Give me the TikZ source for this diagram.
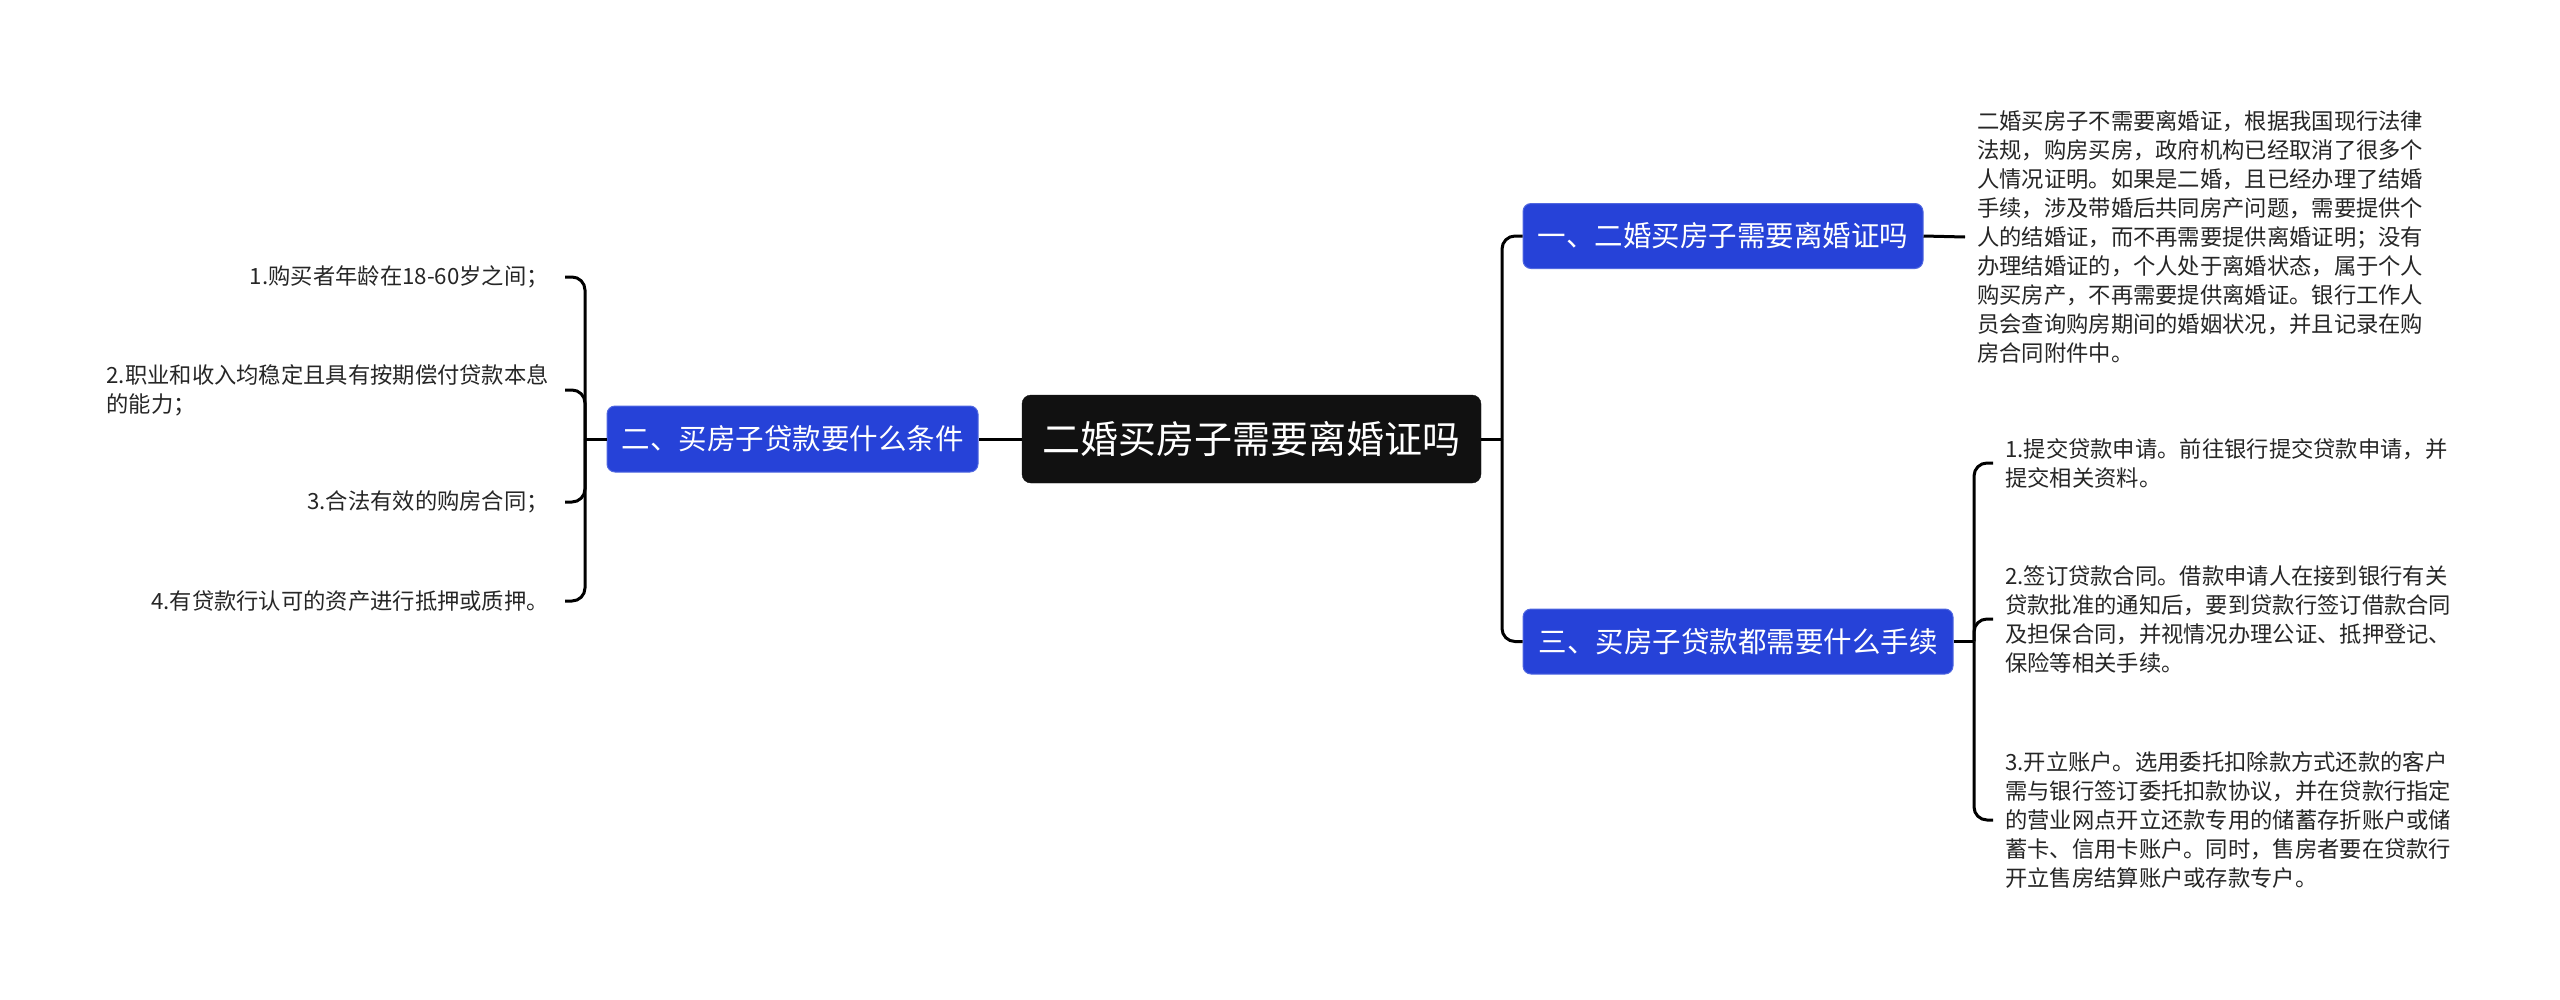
\documentclass[tikz,border=0pt]{standalone}
\usepackage{fontspec}
\setmainfont{Noto Sans CJK SC}
\definecolor{nodeblue}{RGB}{38,66,216}
\definecolor{rootblack}{RGB}{17,17,17}
\definecolor{leaftext}{RGB}{38,38,38}
\tikzset{
  conn/.style={line width=3pt, black},
  elbow/.style={conn, rounded corners=13pt},
  rootbox/.style={fill=rootblack, draw=rootblack, rounded corners=9pt, text=white,
    font=\fontsize{38}{44}\selectfont, inner sep=0pt, minimum width=459pt, minimum height=88pt},
  branchbox/.style={fill=nodeblue, draw=nodeblue!80!white, line width=1pt, rounded corners=8pt, text=white,
    font=\fontsize{28.5}{34}\selectfont, inner sep=0pt, minimum height=65pt},
  leafR/.style={anchor=west, align=left, text=leaftext, inner xsep=12pt, inner ysep=0pt,
    font=\fontsize{22.3}{29}\selectfont},
  leafL/.style={anchor=east, align=left, text=leaftext, inner xsep=16pt, inner ysep=0pt,
    font=\fontsize{22.3}{29}\selectfont}
}
\begin{document}
\begin{tikzpicture}[x=1pt, y=-1pt]
\fill[white] (0,0) rectangle (2560,999);
\useasboundingbox (0,0) rectangle (2560,999);

% main nodes
\node[rootbox] (root) at (1251.5,439) {二婚买房子需要离婚证吗};
\node[branchbox, minimum width=400pt] (n1) at (1723,236) {一、二婚买房子需要离婚证吗};
\node[branchbox, minimum width=430pt] (n3) at (1738,641.5) {三、买房子贷款都需要什么手续};
\node[branchbox, minimum width=371pt, minimum height=66pt] (n2) at (792.5,439) {二、买房子贷款要什么条件};

% leaf text
\node[leafR] (t1) at (1965,237) {二婚买房子不需要离婚证，根据我国现行法律\\法规，购房买房，政府机构已经取消了很多个\\人情况证明。如果是二婚，且已经办理了结婚\\手续，涉及带婚后共同房产问题，需要提供个\\人的结婚证，而不再需要提供离婚证明；没有\\办理结婚证的，个人处于离婚状态，属于个人\\购买房产，不再需要提供离婚证。银行工作人\\员会查询购房期间的婚姻状况，并且记录在购\\房合同附件中。};

\node[leafR] (r1) at (1993,463) {1.提交贷款申请。前往银行提交贷款申请，并\\提交相关资料。};
\node[leafR] (r2) at (1993,619) {2.签订贷款合同。借款申请人在接到银行有关\\贷款批准的通知后，要到贷款行签订借款合同\\及担保合同，并视情况办理公证、抵押登记、\\保险等相关手续。};
\node[leafR] (r3) at (1993,820) {3.开立账户。选用委托扣除款方式还款的客户\\需与银行签订委托扣款协议，并在贷款行指定\\的营业网点开立还款专用的储蓄存折账户或储\\蓄卡、信用卡账户。同时，售房者要在贷款行\\开立售房结算账户或存款专户。};

\node[leafL] (l1) at (565,277) {1.购买者年龄在18-60岁之间；};
\node[leafL] (l2) at (565,390) {2.职业和收入均稳定且具有按期偿付贷款本息\\的能力；};
\node[leafL] (l3) at (565,502) {3.合法有效的购房合同；};
\node[leafL] (l4) at (565,601) {4.有贷款行认可的资产进行抵押或质押。};

% junction coordinates
\coordinate (rtr) at (1502,439);
\coordinate (sub) at (1974,641.5);
\coordinate (ltr) at (585,439);

% connectors
\draw[conn] (root.east) -- (rtr);
\draw[elbow] (rtr) |- (n1.west);
\draw[elbow] (rtr) |- (n3.west);
\draw[conn] (root.west) -- (n2.east);

\draw[conn] (n1.east) -- (t1.west);

\draw[conn] (n3.east) -- (sub);
\draw[elbow] (sub) |- (r1.west);
\draw[elbow] (sub) |- (r2.west);
\draw[elbow] (sub) |- (r3.west);

\draw[conn] (n2.west) -- (ltr);
\draw[elbow] (ltr) |- (l1.east);
\draw[elbow] (ltr) |- (l2.east);
\draw[elbow] (ltr) |- (l3.east);
\draw[elbow] (ltr) |- (l4.east);
\end{tikzpicture}
\end{document}
